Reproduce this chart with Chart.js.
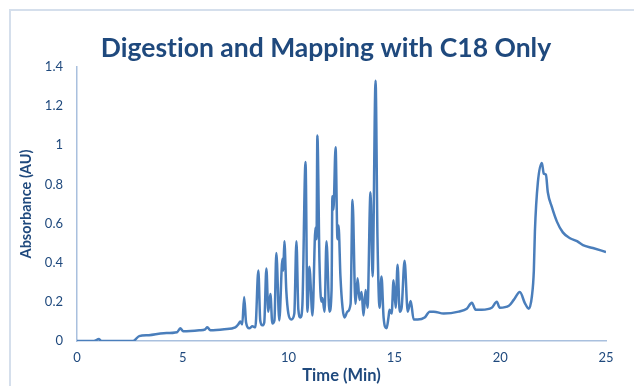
<!DOCTYPE html>
<html>
<head>
<meta charset="utf-8">
<script src="https://cdn.jsdelivr.net/npm/chart.js@4.4.1/dist/chart.umd.min.js"></script>
<style>
  html, body { margin: 0; padding: 0; background: #ffffff; }
  body { width: 634px; height: 386px; position: relative; overflow: hidden; }
  #frame { position: absolute; left: 9px; top: 9px; width: 700px; height: 500px;
           border: 2px solid #D5DFEC; box-sizing: border-box; }
  #c { position: absolute; left: 0; top: 0; font-variant-ligatures: none; }
</style>
</head>
<body>
<div id="frame"></div>
<canvas id="c" width="634" height="386"></canvas>
<script>
// Retention time (min)
const times = [
  0, 0.8, 1.04, 1.14, 2.65, 2.94, 3.4, 4.1, 4.73, 4.88, 5.02, 5.78, 6.06, 6.16, 6.3, 6.96,
  7.48, 7.62, 7.72, 7.81, 7.9, 7.99, 8.14, 8.29, 8.43, 8.57, 8.66, 8.76, 8.85, 8.95, 9.04,
  9.14, 9.23, 9.33, 9.42, 9.56, 9.71, 9.75, 9.8, 9.89, 9.99, 10.13, 10.27, 10.37, 10.46,
  10.56, 10.65, 10.8, 10.89, 10.98, 11.13, 11.27, 11.32, 11.36, 11.46, 11.55, 11.6, 11.7,
  11.79, 11.93, 12.03, 12.07, 12.12, 12.22, 12.31, 12.36, 12.45, 12.55, 12.64, 12.78, 12.93,
  13.02, 13.16, 13.26, 13.35, 13.45, 13.54, 13.64, 13.73, 13.87, 13.97, 14.11, 14.2, 14.3,
  14.39, 14.49, 14.63, 14.72, 14.77, 14.87, 14.96, 15.06, 15.15, 15.25, 15.34, 15.48, 15.63,
  15.77, 15.91, 16.1, 16.43, 16.67, 16.86, 17.33, 18.04, 18.42, 18.66, 18.84, 19.13, 19.6,
  19.84, 19.98, 20.41, 20.64, 20.93, 21.16, 21.35, 21.5, 21.59, 21.64, 21.78, 21.97, 22.06,
  22.16, 22.25, 22.44, 22.68, 22.96, 23.3, 23.63, 23.91, 24.38, 25.0
];
// Absorbance (AU)
const absorbance = [
  0, 0, 0.01, 0, 0, 0.025, 0.03, 0.04, 0.045, 0.065, 0.05, 0.055, 0.06, 0.07, 0.055, 0.06,
  0.07, 0.085, 0.1, 0.085, 0.225, 0.095, 0.065, 0.075, 0.07, 0.36, 0.105, 0.08, 0.095, 0.37, 0.15,
  0.24, 0.09, 0.105, 0.45, 0.105, 0.42, 0.36, 0.51, 0.26, 0.14, 0.11, 0.14, 0.51, 0.16,
  0.12, 0.18, 0.915, 0.15, 0.38, 0.13, 0.58, 0.52, 1.05, 0.40, 0.2, 0.22, 0.15,
  0.51, 0.15, 0.26, 0.74, 0.67, 0.99, 0.52, 0.59, 0.33, 0.17, 0.12, 0.15, 0.19,
  0.72, 0.19, 0.32, 0.21, 0.25, 0.13, 0.26, 0.17, 0.76, 0.33, 1.33, 0.53, 0.17,
  0.33, 0.12, 0.065, 0.12, 0.16, 0.14, 0.31, 0.17, 0.39, 0.15, 0.17, 0.41, 0.15,
  0.205, 0.11, 0.11, 0.12, 0.15, 0.15, 0.14, 0.15, 0.165, 0.195, 0.16, 0.16, 0.17,
  0.2, 0.17, 0.18, 0.21, 0.25, 0.195, 0.165, 0.23, 0.36, 0.56, 0.81, 0.91, 0.855,
  0.85, 0.76, 0.685, 0.61, 0.555, 0.525, 0.51, 0.49, 0.475, 0.455
];
const xTickLabels = ['0', '5', '10', '15', '20', '25'];
const yTickLabels = ['0', '0.2', '0.4', '0.6', '0.8', '1', '1.2', '1.4'];

const chartTitle = 'Digestion and Mapping with C18 Only';
const xTitle = 'Time (Min)';
const yTitle = 'Absorbance (AU)';

const points = times.map((t, i) => ({ x: t, y: absorbance[i] }));
const navy = '#1F497D';
const axisBlue = '#A9C0DE';
const FONT = 'Lato, "Open Sans", sans-serif';

// Chart title drawn at its position in the reference (centred a little right of the canvas middle)
const titlePlugin = {
  id: 'offsetTitle',
  afterDraw(chart) {
    const ctx = chart.ctx;
    ctx.save();
    ctx.font = 'bold 26.5px ' + FONT;
    if ('textRendering' in ctx) ctx.textRendering = 'optimizeSpeed';
    ctx.fillStyle = navy;
    ctx.textAlign = 'center';
    ctx.textBaseline = 'middle';
    ctx.fillText(chartTitle, 326, 48);
    ctx.restore();
  }
};

new Chart(document.getElementById('c'), {
  type: 'line',
  data: {
    datasets: [{
      data: points,
      borderColor: '#4A7EBB',
      borderWidth: 2.5,
      pointRadius: 0,
      cubicInterpolationMode: 'monotone',
      fill: false
    }]
  },
  options: {
    responsive: false,
    animation: false,
    events: [],
    layout: { padding: { left: 0, right: 28, top: 67, bottom: 0 } },
    plugins: {
      legend: { display: false },
      tooltip: { enabled: false },
      title: { display: false }
    },
    scales: {
      x: {
        type: 'linear',
        min: 0, max: 25,
        afterFit: s => { s.height = 45; },
        afterBuildTicks: s => { s.ticks = xTickLabels.map(v => ({ value: Number(v) })); },
        ticks: {
          callback: (v, i) => xTickLabels[i],
          color: navy,
          font: { family: FONT, size: 13 },
          padding: 9,
          maxRotation: 0
        },
        grid: { display: false, drawTicks: false },
        border: { display: true, color: axisBlue, width: 1.5 },
        title: {
          display: true,
          text: xTitle,
          color: navy,
          font: { family: FONT, size: 16.5, weight: 'bold', lineHeight: 1.2 },
          padding: { top: 0, bottom: 0 }
        }
      },
      y: {
        min: 0, max: 1.4,
        afterFit: s => { s.width = 77; },
        afterBuildTicks: s => { s.ticks = yTickLabels.map(v => ({ value: Number(v) })); },
        ticks: {
          callback: (v, i) => yTickLabels[i],
          color: navy,
          font: { family: FONT, size: 13 },
          padding: 14
        },
        grid: { display: false, drawTicks: false },
        border: { display: true, color: axisBlue, width: 1.5 },
        title: {
          display: true,
          text: yTitle,
          color: navy,
          font: { family: FONT, size: 14.5, weight: 'bold', lineHeight: 1.2 },
          padding: { top: 18, bottom: 0 }
        }
      }
    }
  },
  plugins: [titlePlugin]
});
</script>
</body>
</html>
